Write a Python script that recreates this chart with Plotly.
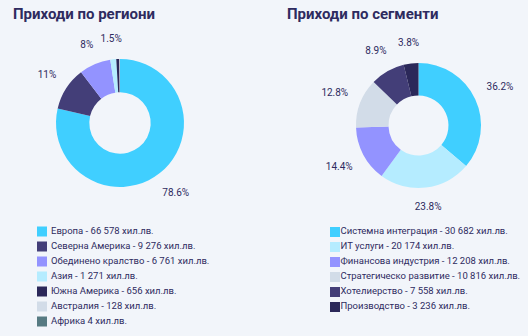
import math
import plotly.graph_objects as go

W, H = 528, 336
BG = "#f2f5fa"
INK = "#2e2b5f"
FONT = "Roboto"

# ---- data ----
region_names = ["Европа", "Северна Америка", "Обединено кралство", "Азия",
                "Южна Америка", "Австралия", "Африка"]
region_values = [66578, 9276, 6761, 1271, 656, 128, 4]
region_legend = ["Европа - 66 578 хил.лв.", "Северна Америка - 9 276 хил.лв.",
                 "Обединено кралство - 6 761 хил.лв.", "Азия - 1 271 хил.лв.",
                 "Южна Америка - 656 хил.лв.", "Австралия - 128 хил.лв.",
                 "Африка 4 хил.лв."]
region_colors = ["#40cfff", "#433e78", "#9393ff", "#b5ecff", "#2b2859", "#d2dce8", "#567a82"]

segment_names = ["Системна интеграция", "ИТ услуги", "Финансова индустрия",
                 "Стратегическо развитие", "Хотелиерство", "Производство"]
segment_values = [30682, 20174, 12208, 10816, 7558, 3236]
segment_legend = ["Системна интеграция - 30 682 хил.лв.", "ИТ услуги - 20 174 хил.лв.",
                  "Финансова индустрия - 12 208 хил.лв.", "Стратегическо развитие - 10 816 хил.лв.",
                  "Хотелиерство - 7 558 хил.лв.", "Производство - 3 236 хил.лв."]
segment_colors = ["#40cfff", "#b5ecff", "#9393ff", "#d2dce8", "#433e78", "#2b2859"]

titles = ["Приходи по региони", "Приходи по сегменти"]

# ---- layout geometry (pixels) ----
pies = [
    dict(names=region_names, values=region_values, colors=region_colors,
         cx=120, cy=123, r=64, title=titles[0], tx=11,
         legend=region_legend, lx=42, ltx=51, ly0=231.5),
    dict(names=segment_names, values=segment_values, colors=segment_colors,
         cx=418.5, cy=125.5, r=62.5, title=titles[1], tx=285,
         legend=segment_legend, lx=335, ltx=340.5, ly0=232),
]
ROW = 15
HOLE = 0.48


def fmt_pct(p):
    s = f"{p:.1f}"
    if s.endswith(".0"):
        s = s[:-2]
    return s + "%"


fig = go.Figure()
annotations = []

for pdef in pies:
    cx, cy, r = pdef["cx"], pdef["cy"], pdef["r"]
    fig.add_trace(go.Pie(
        labels=pdef["names"], values=pdef["values"],
        marker=dict(colors=pdef["colors"], line=dict(width=0)),
        hole=HOLE, sort=False, direction="clockwise", rotation=0,
        textinfo="none", hoverinfo="skip", showlegend=False,
        domain=dict(x=[(cx - r) / W, (cx + r) / W],
                    y=[1 - (cy + r) / H, 1 - (cy - r) / H]),
    ))

    # percentage labels placed outside slices (angles from the values)
    total = sum(pdef["values"])
    cum = 0.0
    lx, ly, lt = [], [], []
    for v in pdef["values"]:
        frac = v / total
        mid = (cum + frac / 2) * 2 * math.pi
        cum += frac
        pct = frac * 100
        if pct < 1:
            continue
        txt = fmt_pct(pct)
        ux, uy = math.sin(mid), -math.cos(mid)
        w = len(txt) * 4.9
        d = r + 14 + abs(ux) * w / 2 + abs(uy) * 5
        lx.append(cx + d * ux)
        ly.append(cy + d * uy)
        lt.append(txt)
    fig.add_trace(go.Scatter(
        x=lx, y=ly, text=lt, mode="text", textposition="middle center",
        textfont=dict(family=FONT, size=10, color=INK),
        hoverinfo="skip", showlegend=False, cliponaxis=False))

    # legend: swatches + text
    n = len(pdef["legend"])
    ys = [pdef["ly0"] + i * ROW for i in range(n)]
    fig.add_trace(go.Scatter(
        x=[pdef["lx"]] * n, y=ys, mode="markers",
        marker=dict(symbol="square", size=10, color=pdef["colors"], line=dict(width=0)),
        hoverinfo="skip", showlegend=False, cliponaxis=False))
    fig.add_trace(go.Scatter(
        x=[pdef["ltx"]] * n, y=ys, text=pdef["legend"], mode="text",
        textposition="middle right",
        textfont=dict(family=FONT, size=9.5, color=INK),
        hoverinfo="skip", showlegend=False, cliponaxis=False))

    annotations.append(dict(
        text=f"<b>{pdef['title']}</b>", x=pdef["tx"] / W, y=1 - 14 / H,
        xref="paper", yref="paper", xanchor="left", yanchor="middle",
        showarrow=False, font=dict(family=FONT, size=15, color=INK)))

fig.update_layout(
    width=W, height=H, margin=dict(l=0, r=0, t=0, b=0),
    paper_bgcolor=BG, plot_bgcolor=BG,
    xaxis=dict(range=[0, W], domain=[0, 1], visible=False, fixedrange=True),
    yaxis=dict(range=[H, 0], domain=[0, 1], visible=False, fixedrange=True),
    annotations=annotations, showlegend=False,
)

fig.write_html("out.html")
